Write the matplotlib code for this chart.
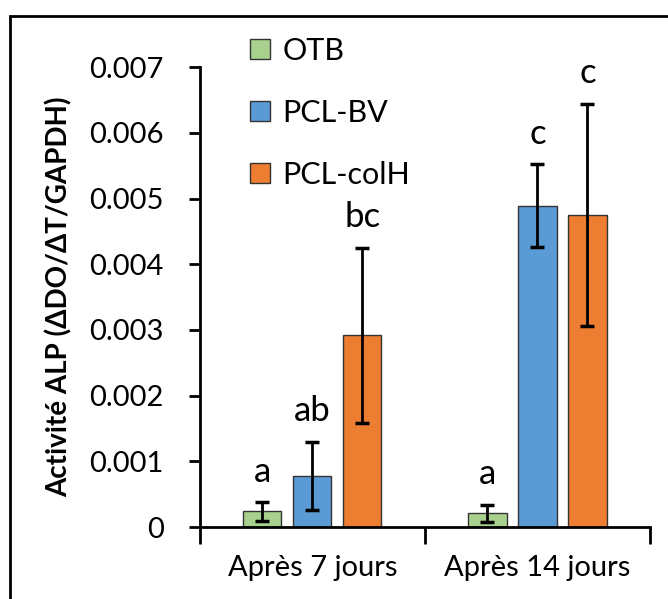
import matplotlib.pyplot as plt
import matplotlib.patches as mpatches
import numpy as np

# données ALP
categories = ['Après 7 jours', 'Après 14 jours']
groupes = ['OTB', 'PCL-BV', 'PCL-colH']
moyennes = {
    'OTB': [0.00024, 0.00021],
    'PCL-BV': [0.00078, 0.00489],
    'PCL-colH': [0.00292, 0.00475],
}
erreurs = {
    'OTB': [0.00014, 0.00013],
    'PCL-BV': [0.00052, 0.00063],
    'PCL-colH': [0.00133, 0.00169],
}
lettres = {
    'OTB': ['a', 'a'],
    'PCL-BV': ['ab', 'c'],
    'PCL-colH': ['bc', 'c'],
}
couleurs = {'OTB': '#A9D18E', 'PCL-BV': '#5B9BD5', 'PCL-colH': '#ED7D31'}

police = 'Lato'
plt.rcParams['font.family'] = police

fig = plt.figure(figsize=(6.68, 5.99), dpi=100)
ax = fig.add_axes([0.299, 0.120, 0.674, 0.768])

# cadre extérieur
fig.patches.append(mpatches.Rectangle((10/668, -0.1), 2, 1.1 - 16/599,
                                      transform=fig.transFigure, fill=False,
                                      lw=2, ec='black', zorder=0))

x = np.arange(len(categories))
largeur = 0.17
pas = 0.222
for i, g in enumerate(groupes):
    pos = x + (i - 1) * pas
    ax.bar(pos, moyennes[g], largeur, color=couleurs[g], edgecolor='#333333',
           linewidth=1.0, label=g, zorder=2)
    ax.errorbar(pos, moyennes[g], yerr=erreurs[g], fmt='none', ecolor='black',
                elinewidth=2, capsize=5, capthick=2.5, zorder=3)
    for p, m, e, l in zip(pos, moyennes[g], erreurs[g], lettres[g]):
        ax.text(p, m + e + 0.00022, l, ha='center', va='bottom', fontsize=25)

ax.set_xlim(-0.5, 1.5)
ax.set_ylim(0, 0.007)
ax.set_yticks(np.arange(0, 0.0071, 0.001))
ax.set_yticklabels(['0', '0.001', '0.002', '0.003', '0.004', '0.005', '0.006', '0.007'])
ax.set_xticks([-0.5, 0.5, 1.5], minor=False)
ax.set_xticklabels(['', '', ''])
ax.set_xticks(x, minor=True)
ax.set_xticklabels(categories, minor=True, fontsize=21)
ax.tick_params(axis='x', which='minor', length=0, pad=20)
ax.tick_params(axis='x', which='major', length=12, width=2, direction='out')
ax.tick_params(axis='y', length=8, width=2, labelsize=21, pad=18)
for s in ['top', 'right']:
    ax.spines[s].set_visible(False)
for s in ['left', 'bottom']:
    ax.spines[s].set_linewidth(2)

ax.set_ylabel('Activité ALP (ΔDO/ΔT/GAPDH)', fontsize=20, fontweight='bold',
              labelpad=12)

ax.legend(loc='upper left', bbox_to_anchor=(0.085, 1.093), frameon=False,
          fontsize=22, handlelength=0.65, handleheight=0.65, handletextpad=0.4,
          labelspacing=1.12, borderaxespad=0)

fig.savefig('out.png', dpi=100)
